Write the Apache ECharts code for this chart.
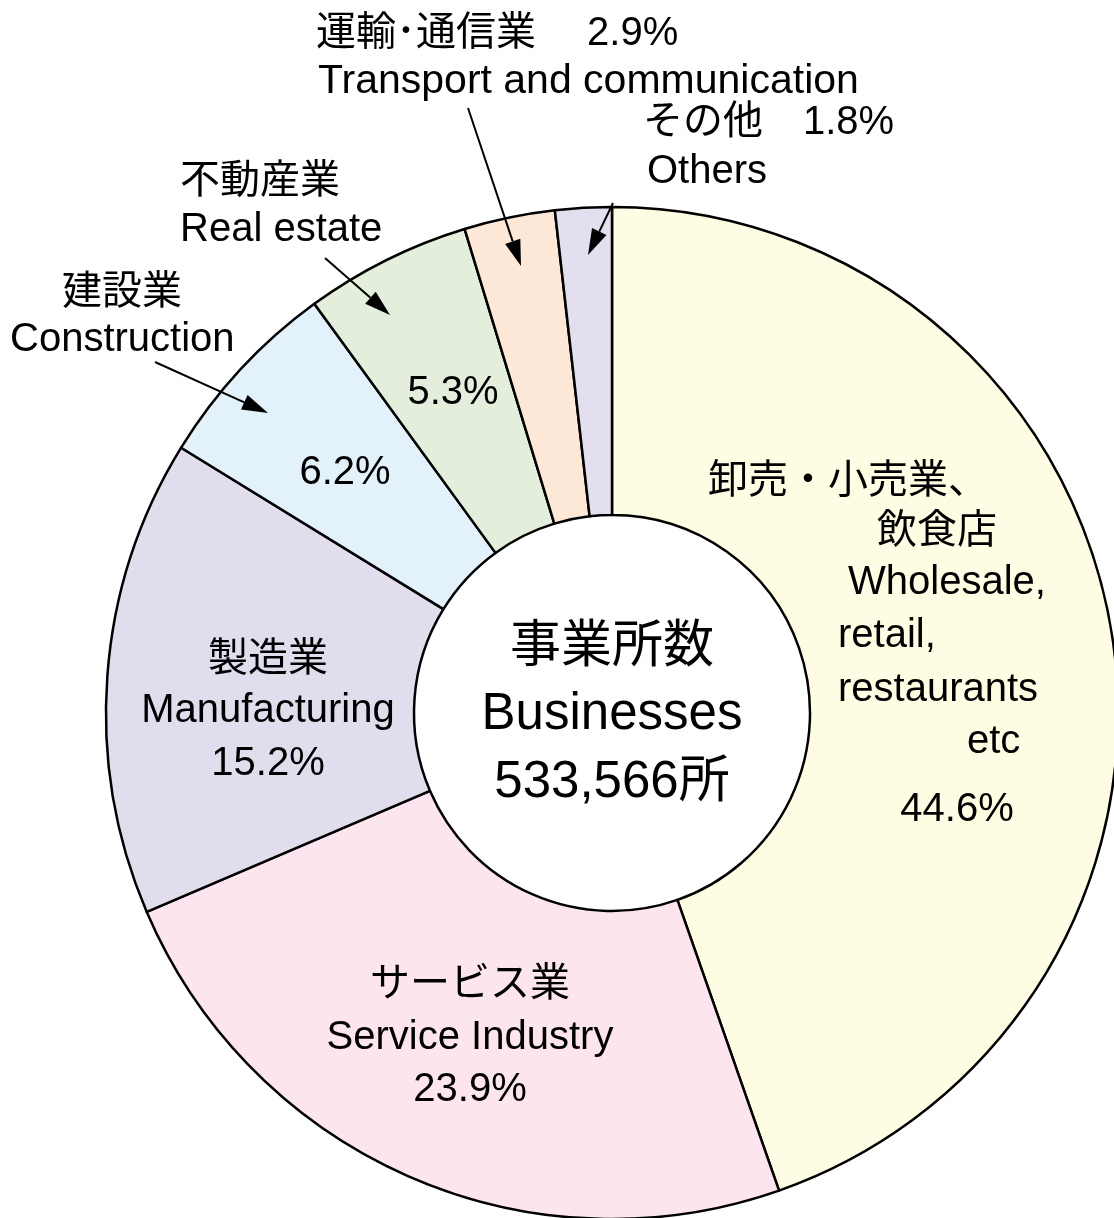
<!DOCTYPE html>
<html>
<head>
<meta charset="utf-8">
<script src="https://cdn.jsdelivr.net/npm/echarts@6/dist/echarts.min.js"></script>
<style>
html, body { margin: 0; padding: 0; background: #fff; }
#main { width: 1114px; height: 1218px; }
</style>
</head>
<body>
<div id="main"></div>
<script>
/* 事業所数 産業別構成比 */
var namesJa = ['卸売・小売業、飲食店', 'サービス業', '製造業', '建設業', '不動産業', '運輸･通信業', 'その他'];
var namesEn = ['Wholesale, retail, restaurants etc', 'Service Industry', 'Manufacturing', 'Construction', 'Real estate', 'Transport and communication', 'Others'];
var shares = [44.6, 23.9, 15.2, 6.2, 5.3, 2.9, 1.8];
var totalText = '533,566所';
var colors = ['#fefce3', '#fce5ee', '#e2dded', '#e3f1fb', '#e4eedd', '#fde7d6', '#e3dfee'];

var FONT = '"Liberation Sans", "Noto Sans CJK JP", sans-serif';

function pct(i) {
    return shares[i].toFixed(1) + '%';
}

function txt(s, x, y, align, size) {
    return {
        type: 'text',
        x: x,
        y: y,
        z: 10,
        style: {
            text: s,
            fill: '#000',
            font: (size || 40) + 'px ' + FONT,
            align: align || 'center',
            verticalAlign: 'middle'
        }
    };
}

/* 引出線 + 矢印 */
function arrow(x1, y1, x2, y2) {
    var dx = x2 - x1, dy = y2 - y1;
    var len = Math.sqrt(dx * dx + dy * dy);
    var ux = dx / len, uy = dy / len;
    var hl = 26, hw = 8;
    var bx = x2 - ux * hl, by = y2 - uy * hl;
    return [
        {
            type: 'line', z: 10,
            shape: { x1: x1, y1: y1, x2: bx, y2: by },
            style: { stroke: '#000', lineWidth: 2 }
        },
        {
            type: 'polygon', z: 10,
            shape: { points: [[x2, y2], [bx - uy * hw, by + ux * hw], [bx + uy * hw, by - ux * hw]] },
            style: { fill: '#000' }
        }
    ];
}

var graphics = [
    // 運輸・通信業
    txt(namesJa[5] + '　 ' + pct(5), 316, 34, 'left'),
    txt(namesEn[5], 318, 82, 'left', 41),
    // その他
    txt(namesJa[6] + '　' + pct(6), 643, 123, 'left'),
    txt(namesEn[6], 647, 172, 'left'),
    // 不動産業
    txt(namesJa[4], 180, 182, 'left'),
    txt(namesEn[4], 180, 230, 'left'),
    txt(pct(4), 453, 393),
    // 建設業
    txt(namesJa[3], 62, 293, 'left'),
    txt(namesEn[3], 10, 340, 'left'),
    txt(pct(3), 345, 473),
    // 卸売・小売業、飲食店
    txt('卸売・小売業、', 708, 482, 'left'),
    txt('飲食店', 877, 532, 'left'),
    txt('Wholesale,', 848, 583, 'left'),
    txt('retail,', 838, 636, 'left'),
    txt('restaurants', 838, 690, 'left'),
    txt('etc', 967, 742, 'left'),
    txt(pct(0), 957, 810),
    // 製造業
    txt(namesJa[2], 268, 660),
    txt(namesEn[2], 268, 711),
    txt(pct(2), 268, 764),
    // サービス業
    txt(namesJa[1], 470, 985),
    txt(namesEn[1], 470, 1038),
    txt(pct(1), 470, 1090),
    // 中央
    txt('事業所数', 612, 648, 'center', 51),
    txt('Businesses', 612, 715, 'center', 51),
    txt(totalText, 612, 783, 'center', 51)
];
graphics = graphics
    .concat(arrow(468, 108, 521, 266))
    .concat(arrow(613, 203, 588, 255))
    .concat(arrow(325, 258, 390, 315))
    .concat(arrow(155, 362, 268, 413));

var chart = echarts.init(document.getElementById('main'));
chart.setOption({
    animation: false,
    backgroundColor: '#fff',
    series: [
        {
            type: 'pie',
            center: [612, 713],
            radius: [198, 506],
            startAngle: 90,
            clockwise: true,
            silent: true,
            label: { show: false },
            labelLine: { show: false },
            itemStyle: { borderColor: '#000', borderWidth: 2.5 },
            data: shares.map(function (v, i) {
                return { name: namesJa[i], value: v, itemStyle: { color: colors[i] } };
            })
        }
    ],
    graphic: graphics
});
</script>
</body>
</html>
